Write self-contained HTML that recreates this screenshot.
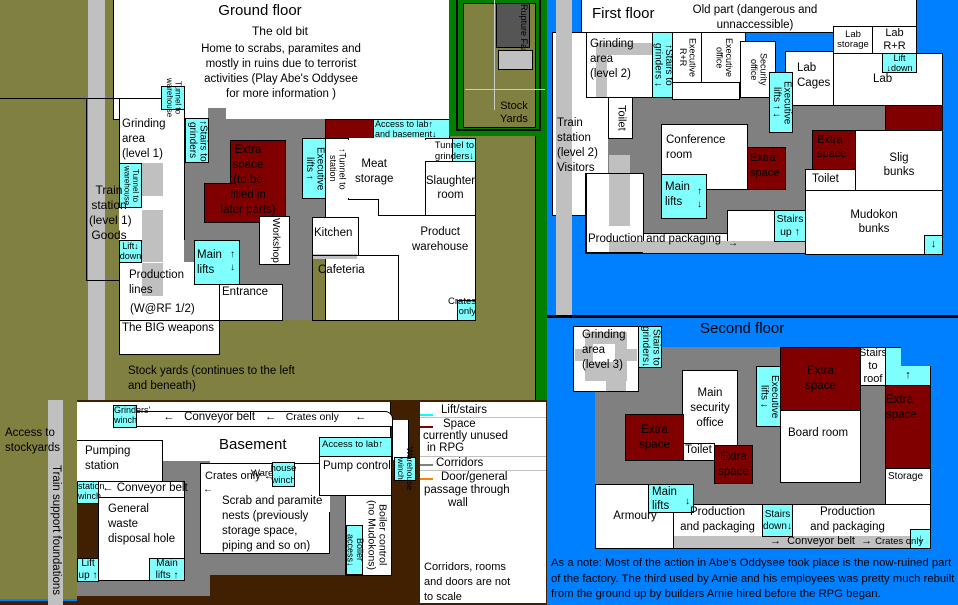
<!DOCTYPE html>
<html><head><meta charset="utf-8"><style>
*{margin:0;padding:0;box-sizing:border-box}
body{width:958px;height:605px;position:relative;overflow:hidden;background:#000;font-family:"Liberation Sans",sans-serif;font-size:11px;color:#000}
div{position:absolute}
.w{background:#fff;border:1px solid #000}
.c{background:#80ffff;border:1px solid #000}
.r{background:#800000;border:1px solid #000}
.g{background:#808080}
.l{background:#c0c0c0}
.t{display:flex;align-items:center;justify-content:center;text-align:center;line-height:1.2}
.v{writing-mode:vertical-rl;display:flex;align-items:center;justify-content:center;text-align:center;line-height:1.05;font-size:10px}
.s{font-size:10px;line-height:1.1}
</style></head><body>

<!-- ===== GROUND FLOOR ===== -->
<div style="left:0;top:0;width:547px;height:400px;background:#808040"></div>
<div style="left:0;top:98px;width:113px;height:1px;background:#000"></div>
<div class="w" style="left:113px;top:0;width:337px;height:120px;border-top:none"></div>
<div class="l" style="left:88px;top:0;width:17px;height:400px"></div>
<div class="w" style="left:86px;top:98px;width:34px;height:183px;background:transparent"></div>
<div class="l" style="left:88px;top:99px;width:17px;height:181px"></div>

<div style="left:160px;top:2px;width:200px;text-align:center;font-size:15px">Ground floor</div>
<div style="left:200px;top:24px;width:160px;text-align:center;font-size:12px;line-height:15px">The old bit</div>
<div style="left:196px;top:42px;width:170px;text-align:center;font-size:11.5px;line-height:15px">Home to scrabs, paramites and mostly in ruins due to terrorist activities (Play Abe's Oddysee for more information )</div>

<!-- corridors -->
<div class="g" style="left:208px;top:108px;width:18px;height:14px"></div>
<div class="g" style="left:184px;top:119px;width:141px;height:121px"></div>
<div class="g" style="left:184px;top:240px;width:128px;height:80px"></div>

<div class="w" style="left:119px;top:98px;width:66px;height:66px"></div>
<div style="left:122px;top:117px;font-size:11.5px;line-height:15px">Grinding<br>area<br>(level 1)</div>
<div class="c v" style="left:161px;top:86px;width:24px;height:24px;font-size:8px">Tunnel to<br>warehouse</div>
<div class="c v" style="left:185px;top:118px;width:24px;height:45px">↑Stairs to<br>grinders</div>

<div style="left:119px;top:163px;width:65px;height:158px;background:#fff"></div>
<div class="l" style="left:142px;top:163px;width:21px;height:133px"></div>
<div style="left:142px;top:196px;width:21px;height:14px;background:#fff"></div>
<div class="c v" style="left:119px;top:163px;width:23px;height:45px;font-size:8px">Tunnel to<br>warehouse</div>
<div class="c t s" style="left:119px;top:240px;width:23px;height:23px;font-size:9px">Lift↓<br>down</div>
<div style="left:119px;top:262px;width:101px;height:59px;background:#fff;border:1px solid #000;border-top:none"></div>
<div class="l" style="left:142px;top:263px;width:21px;height:33px"></div>
<div style="left:119px;top:262px;width:23px;height:1px;background:#000"></div>
<div style="left:184px;top:163px;width:1px;height:77px;background:#000"></div>
<div style="left:129px;top:268px;font-size:11.5px;line-height:15px">Production<br>lines</div>
<div style="left:130px;top:303px;font-size:11.5px">(W@RF 1/2)</div>
<div class="w" style="left:119px;top:320px;width:101px;height:35px"></div>
<div style="left:122px;top:322px;font-size:11.5px">The BIG weapons</div>
<div style="left:128px;top:364px;font-size:11.5px;line-height:15px">Stock yards (continues to the left<br>and beneath)</div>
<div style="left:89px;top:183px;width:40px;font-size:12px;line-height:15px;text-align:center;white-space:nowrap;z-index:2">Train<br>station<br>(level 1)<br>Goods</div>

<div class="r" style="left:230px;top:140px;width:56px;height:83px"></div>
<div class="r" style="left:204px;top:183px;width:30px;height:40px;border-right:none"></div>
<div style="left:210px;top:143px;width:76px;text-align:center;font-size:11.5px;line-height:15px">Extra<br>space<br>(to be<br>filled in<br>later parts)</div>
<div class="w v" style="left:259px;top:216px;width:31px;height:49px;font-size:10px">Workshop</div>
<div class="c" style="left:194px;top:240px;width:46px;height:45px"></div>
<div style="left:197px;top:248px;font-size:11.5px;line-height:15px">Main<br>lifts</div>
<div style="left:230px;top:248px;font-size:10px;line-height:13px">↑<br>↓</div>
<div class="w" style="left:219px;top:284px;width:64px;height:37px"></div>
<div style="left:222px;top:286px;font-size:11.5px">Entrance</div>

<div class="r" style="left:325px;top:119px;width:49px;height:26px"></div>
<div class="c s" style="left:373px;top:119px;width:77px;height:20px;font-size:9px;padding-left:1px">Access to lab↑<br>and basement↓</div>
<div class="w" style="left:325px;top:138px;width:151px;height:183px"></div>
<div class="c v" style="left:302px;top:138px;width:24px;height:61px">Executive<br>lifts ↑</div>
<div class="v" style="left:327px;top:146px;width:20px;height:45px;font-size:9px">↑Tunnel to<br>station</div>
<div class="w" style="left:348px;top:138px;width:78px;height:62px;border-top:none"></div>
<div class="w" style="left:378px;top:199px;width:48px;height:17px;border-top:none;border-right:none"></div>
<div style="left:348px;top:140px;width:78px;height:58px;background:#fff"></div>
<div style="left:355px;top:157px;font-size:11.5px;line-height:15px;text-align:center">Meat<br>storage</div>
<div class="c s" style="left:452px;top:138px;width:24px;height:24px"></div>
<div style="left:428px;top:140px;font-size:9.5px;line-height:11px;text-align:right;width:46px">Tunnel to<br>grinders↓</div>
<div class="w t" style="left:425px;top:161px;width:51px;height:55px;font-size:11.5px">Slaughter<br>room</div>
<div class="w" style="left:312px;top:217px;width:47px;height:39px"></div>
<div style="left:314px;top:227px;font-size:11.5px">Kitchen</div>
<div class="l" style="left:313px;top:254px;width:44px;height:5px"></div>
<div class="w" style="left:312px;top:255px;width:87px;height:66px;background:transparent"></div>
<div style="left:318px;top:264px;font-size:11.5px">Cafeteria</div>
<div style="left:412px;top:225px;font-size:11.5px;line-height:15px;text-align:center">Product<br>warehouse</div>
<div class="c" style="left:457px;top:300px;width:19px;height:21px"></div>
<div style="left:440px;top:297px;width:36px;text-align:right;font-size:9.5px;line-height:10px">Crates<br>only</div>

<!-- stockyard inset -->
<div style="left:449px;top:0;width:98px;height:136px;background:#008000"></div>
<div style="left:456px;top:0;width:85px;height:131px;border:2px solid #000;border-top:none"></div>
<div style="left:463px;top:3px;width:73px;height:125px;background:#808040;border:1px solid #000"></div>
<div style="left:496px;top:3px;width:34px;height:45px;background:#555;border:1px solid #000"></div>
<div style="left:497px;top:4px;width:32px;font-size:9px;color:#000;writing-mode:vertical-rl;line-height:10px">Rupture Farms</div>
<div style="left:498px;top:50px;width:35px;height:20px;background:#c0c0c0;border:1px solid #000"></div>
<div style="left:494px;top:0;width:1px;height:110px;background:#ccc"></div>
<div style="left:465px;top:89px;width:80px;height:1px;background:#ccc"></div>
<div style="left:500px;top:100px;font-size:11px;line-height:13px;text-align:center">Stock<br>Yards</div>
<div style="left:535px;top:136px;width:12px;height:264px;background:#008000;border-left:1px solid #000"></div>

<!-- ===== FIRST FLOOR ===== -->
<div style="left:547px;top:0;width:411px;height:315px;background:#0080ff"></div>
<div class="w" style="left:581px;top:0;width:336px;height:33px;border-top:none"></div>
<div style="left:592px;top:5px;font-size:15px">First floor</div>
<div style="left:690px;top:3px;width:130px;text-align:center;font-size:11.5px;line-height:15px">Old part (dangerous and unnaccessible)</div>
<div class="w" style="left:552px;top:32px;width:57px;height:184px"></div>
<div class="l" style="left:556px;top:0;width:16px;height:315px"></div>
<div style="left:557px;top:116px;font-size:11.5px;line-height:15px">Train<br>station<br>(level 2)<br>Visitors</div>
<div class="g" style="left:608px;top:97px;width:277px;height:136px"></div>
<div class="w" style="left:586px;top:32px;width:67px;height:66px"></div>
<div class="l" style="left:596px;top:43px;width:57px;height:12px"></div>
<div class="l" style="left:596px;top:43px;width:11px;height:54px"></div>
<div style="left:590px;top:37px;font-size:11.5px;line-height:15px">Grinding<br>area<br>(level 2)</div>
<div class="c v" style="left:652px;top:32px;width:21px;height:66px">↑Stairs to<br>grinders ↓</div>
<div class="w v" style="left:672px;top:32px;width:30px;height:51px;font-size:9px">Executive<br>R+R</div>
<div class="w v" style="left:701px;top:32px;width:45px;height:51px;font-size:9px">Executive<br>office</div>
<div class="w" style="left:672px;top:82px;width:68px;height:18px"></div>
<div class="w v" style="left:740px;top:41px;width:36px;height:57px;font-size:9px">Security<br>office</div>
<div class="w" style="left:785px;top:51px;width:49px;height:55px"></div>
<div style="left:797px;top:61px;font-size:11.5px;line-height:15px">Lab<br>Cages</div>
<div class="w t s" style="left:833px;top:26px;width:40px;height:28px;font-size:9.5px">Lab<br>storage</div>
<div class="w t" style="left:872px;top:26px;width:45px;height:28px;font-size:11px">Lab<br>R+R</div>
<div class="w" style="left:833px;top:53px;width:110px;height:53px"></div>
<div style="left:873px;top:73px;font-size:11.5px">Lab</div>
<div class="c s" style="left:882px;top:53px;width:35px;height:20px;font-size:9px;text-align:center">Lift<br>↓down</div>
<div class="c v" style="left:769px;top:72px;width:24px;height:61px">Executive<br>lifts ↑ ↓</div>
<div class="r" style="left:885px;top:105px;width:58px;height:26px"></div>
<div class="w t v" style="left:608px;top:97px;width:25px;height:42px;font-size:11px">Toilet</div>
<div class="w" style="left:661px;top:124px;width:87px;height:66px"></div>
<div style="left:666px;top:133px;font-size:11.5px;line-height:15px">Conference<br>room</div>
<div class="r" style="left:747px;top:147px;width:39px;height:43px;color:#000;font-size:11px;line-height:15px;padding:3px 2px">Extra<br>space</div>
<div class="c" style="left:661px;top:174px;width:46px;height:45px"></div>
<div style="left:665px;top:180px;font-size:11.5px;line-height:15px">Main<br>lifts</div>
<div style="left:697px;top:185px;font-size:10px;line-height:13px">↑<br>↓</div>
<div class="r" style="left:812px;top:130px;width:44px;height:40px;padding:2px 4px;font-size:11px;line-height:14px">Extra<br>space</div>
<div class="w" style="left:805px;top:169px;width:51px;height:22px;padding:3px 6px;font-size:11.5px">Toilet</div>
<div class="w t" style="left:855px;top:130px;width:88px;height:71px;font-size:11.5px">Slig<br>bunks</div>
<div class="w t" style="left:805px;top:190px;width:138px;height:65px;font-size:11.5px">Mudokon<br>bunks</div>
<div class="c t" style="left:924px;top:235px;width:19px;height:20px">↓</div>
<div class="w" style="left:585px;top:173px;width:59px;height:81px"></div>
<div class="w" style="left:643px;top:233px;width:163px;height:21px"></div>
<div class="w" style="left:727px;top:210px;width:79px;height:44px"></div>
<div class="l" style="left:609px;top:155px;width:21px;height:71px"></div>
<div class="l" style="left:609px;top:241px;width:196px;height:12px"></div>
<div style="left:586px;top:173px;width:57px;height:80px;border:1px solid #000;border-right:none"></div>
<div style="left:588px;top:233px;font-size:11.5px">Production and packaging</div>
<div style="left:728px;top:238px;font-size:10px">→</div>
<div class="c t" style="left:774px;top:210px;width:32px;height:32px;font-size:10.5px">Stairs<br>up ↑</div>
<div style="left:547px;top:315px;width:411px;height:3px;background:#000"></div>

<!-- ===== SECOND FLOOR ===== -->
<div style="left:547px;top:318px;width:411px;height:287px;background:#0080ff"></div>
<div style="left:700px;top:320px;font-size:15px">Second floor</div>
<div class="g" style="left:595px;top:347px;width:290px;height:157px"></div>
<div class="w" style="left:573px;top:326px;width:66px;height:66px"></div>
<div class="l" style="left:575px;top:349px;width:62px;height:12px"></div>
<div class="l" style="left:585px;top:332px;width:42px;height:49px"></div>
<div class="l" style="left:606px;top:370px;width:20px;height:21px"></div>
<div style="left:593px;top:344px;width:22px;height:18px;background:#fff"></div>
<div style="left:582px;top:328px;font-size:11.5px;line-height:15px">Grinding<br>area<br>(level 3)</div>
<div class="c v" style="left:638px;top:326px;width:24px;height:42px">Stairs to<br>grinders↓</div>
<div class="w t" style="left:682px;top:370px;width:56px;height:76px;font-size:11.5px;line-height:15px">Main<br>security<br>office</div>
<div class="r t" style="left:625px;top:414px;width:59px;height:47px;font-size:11.5px;line-height:15px">Extra<br>space</div>
<div class="w" style="left:683px;top:443px;width:32px;height:18px;font-size:11.5px;padding-left:1px">Toilet</div>
<div class="r t" style="left:714px;top:445px;width:39px;height:39px;font-size:11.5px;line-height:15px">Extra<br>space</div>
<div class="c v" style="left:756px;top:366px;width:25px;height:61px">Executive<br>lifts ↓</div>
<div class="r t" style="left:780px;top:347px;width:81px;height:64px;font-size:11.5px;line-height:15px">Extra<br>space</div>
<div class="w" style="left:780px;top:410px;width:81px;height:73px"></div>
<div style="left:788px;top:427px;font-size:11.5px">Board room</div>
<div class="w t" style="left:860px;top:347px;width:26px;height:39px;font-size:11px;line-height:13px">Stairs<br>to<br>roof</div>
<div class="c" style="left:885px;top:347px;width:16px;height:39px;border-right:none"></div>
<div class="c t" style="left:885px;top:366px;width:46px;height:20px;border-top:none">↑</div>
<div class="r" style="left:885px;top:385px;width:46px;height:84px;font-size:11.5px;line-height:15px;padding-top:7px">Extra<br>space</div>
<div class="w" style="left:885px;top:468px;width:46px;height:38px;font-size:10px;padding:2px">Storage</div>
<div class="w t" style="left:595px;top:484px;width:80px;height:65px;font-size:11.5px">Armoury</div>
<div class="w" style="left:673px;top:504px;width:258px;height:45px"></div>
<div class="l" style="left:674px;top:536px;width:236px;height:12px"></div>
<div class="c" style="left:648px;top:484px;width:46px;height:29px"></div>
<div style="left:652px;top:485px;font-size:11.5px;line-height:14px">Main<br>lifts</div>
<div style="left:685px;top:496px;font-size:10px">↓</div>
<div class="t" style="left:675px;top:505px;width:85px;font-size:11.5px;line-height:15px">Production<br>and packaging</div>
<div class="c t" style="left:762px;top:504px;width:31px;height:33px;font-size:10px">Stairs<br>down↓</div>
<div class="t" style="left:795px;top:505px;width:105px;font-size:11.5px;line-height:15px">Production<br>and packaging</div>
<div class="c t" style="left:910px;top:529px;width:21px;height:20px;font-size:10px">↓</div>
<div style="left:770px;top:535px;font-size:11px;white-space:nowrap">→&nbsp; Conveyor belt &nbsp;→ <span style="font-size:9.5px">Crates only</span></div>
<div style="left:551px;top:556px;width:405px;font-size:11.3px;line-height:15.5px;color:#000">As a note: Most of the action in Abe's Oddysee took place is the now-ruined part of the factory. The third used by Arnie and his employees was pretty much rebuilt from the ground up by builders Arnie hired before the RPG began.</div>

<!-- ===== BASEMENT ===== -->
<div style="left:0;top:400px;width:547px;height:205px;background:#402000"></div>
<div style="left:0;top:400px;width:77px;height:200px;background:#808040"></div>
<div style="left:0;top:599px;width:77px;height:2px;background:#0080ff"></div>
<div class="l" style="left:48px;top:400px;width:15px;height:205px"></div>
<div style="left:5px;top:426px;font-size:11.5px;line-height:15px">Access to<br>stockyards</div>
<div style="left:49px;top:402px;width:14px;height:200px;writing-mode:vertical-rl;font-size:11.5px;text-align:center;line-height:14px;padding-top:55px">Train support foundations</div>

<div style="left:77px;top:402px;width:314px;height:94px;background:#fff;border-right:1px solid #000"></div>
<div style="left:113px;top:411px;width:280px;height:16px;border:1px solid #000;background:#fff;border-radius:0 8px 0 0"></div>
<div style="left:392px;top:420px;width:17px;height:40px;border-right:1px solid #000;border-left:1px solid #000;background:#fff"></div>
<div class="c s" style="left:113px;top:405px;width:24px;height:23px;font-size:9px">Grinders'<br>winch</div>
<div style="left:163px;top:411px;font-size:11.5px;white-space:nowrap">← &nbsp;&nbsp;Conveyor belt &nbsp;&nbsp;← &nbsp;&nbsp;<span style="font-size:10.5px">Crates only</span> &nbsp;&nbsp;&nbsp;&nbsp;←</div>
<div class="c v" style="left:394px;top:457px;width:22px;height:24px;font-size:8.5px">Warehouse<br>winch</div>
<div style="left:219px;top:436px;font-size:15px">Basement</div>

<div class="g" style="left:162px;top:461px;width:48px;height:135px"></div>
<div class="g" style="left:77px;top:580px;width:133px;height:16px"></div>
<div class="g" style="left:200px;top:553px;width:163px;height:22px"></div>
<div class="g" style="left:319px;top:495px;width:44px;height:80px"></div>

<div class="w" style="left:77px;top:440px;width:86px;height:44px;border-left:none"></div>
<div style="left:85px;top:444px;font-size:11.5px;line-height:15px">Pumping<br>station</div>
<div class="w" style="left:77px;top:481px;width:108px;height:17px;border-left:none"></div>
<div class="c s" style="left:77px;top:481px;width:22px;height:23px;font-size:9px">station<br>winch</div>
<div style="left:102px;top:482px;font-size:11.5px">← Conveyor belt</div>
<div class="w" style="left:98px;top:497px;width:87px;height:84px"></div>
<div style="left:108px;top:502px;font-size:11.5px;line-height:15px">General<br>waste<br>disposal hole</div>
<div class="c t" style="left:77px;top:558px;width:22px;height:24px;font-size:10px">Lift<br>up ↑</div>
<div class="c t" style="left:149px;top:558px;width:36px;height:23px;font-size:10px">Main<br>lifts ↑</div>

<div style="left:200px;top:463px;width:130px;height:91px;background:#fff;border:1px solid #000;border-right:none"></div>
<div style="left:329px;top:512px;width:1px;height:42px;background:#000"></div>
<div style="left:205px;top:470px;font-size:11px">Crates only ←</div>
<div class="c t" style="left:272px;top:462px;width:23px;height:25px;font-size:9.5px">house<br>winch</div>
<div style="left:251px;top:468px;font-size:9.5px">Ware</div>
<div style="left:203px;top:484px;width:2px;font-size:10px">←</div>
<div style="left:222px;top:494px;font-size:11.5px;line-height:15px">Scrab and paramite<br>nests (previously<br>storage space,<br>piping and so on)</div>
<div class="w" style="left:319px;top:437px;width:73px;height:59px"></div>
<div class="c" style="left:319px;top:437px;width:73px;height:20px;font-size:9.5px;padding-left:2px;line-height:13px">Access to lab↑</div>
<div style="left:323px;top:460px;font-size:11.5px">Pump control</div>
<div class="w" style="left:345px;top:495px;width:47px;height:81px"></div>
<div class="v" style="left:362px;top:496px;width:29px;height:78px;font-size:10.5px">Boiler control<br>(no Mudokons)</div>
<div class="c v" style="left:346px;top:525px;width:17px;height:50px;font-size:9px">Boiler<br>access↓</div>

<!-- legend -->
<div style="left:420px;top:402px;width:126px;height:201px;background:#fff"></div>
<div style="left:420px;top:414px;width:13px;height:2px;background:#0ff"></div>
<div style="left:420px;top:426px;width:13px;height:2px;background:#800000"></div>
<div style="left:420px;top:464px;width:13px;height:2px;background:#808080"></div>
<div style="left:420px;top:478px;width:13px;height:2px;background:#ff8000"></div>
<div style="left:420px;top:417px;width:126px;height:1px;background:#c0c0c0"></div>
<div style="left:420px;top:456px;width:126px;height:1px;background:#c0c0c0"></div>
<div style="left:420px;top:470px;width:126px;height:1px;background:#c0c0c0"></div>
<div style="left:441px;top:404px;font-size:11.5px">Lift/stairs</div>
<div style="left:443px;top:418px;font-size:11.5px;line-height:12.5px">Space</div>
<div style="left:423px;top:430px;font-size:11.5px;line-height:12.5px">currently unused</div>
<div style="left:427px;top:442px;font-size:11.5px;line-height:12.5px">in RPG</div>
<div style="left:436px;top:457px;font-size:11.5px">Corridors</div>
<div style="left:441px;top:471px;font-size:11.5px;line-height:13px">Door/general</div>
<div style="left:424px;top:484px;font-size:11.5px;line-height:13px">passage through</div>
<div style="left:448px;top:497px;font-size:11.5px;line-height:13px">wall</div>
<div style="left:424px;top:560px;font-size:11px;line-height:15px">Corridors, rooms<br>and doors are not<br>to scale</div>
</body></html>
